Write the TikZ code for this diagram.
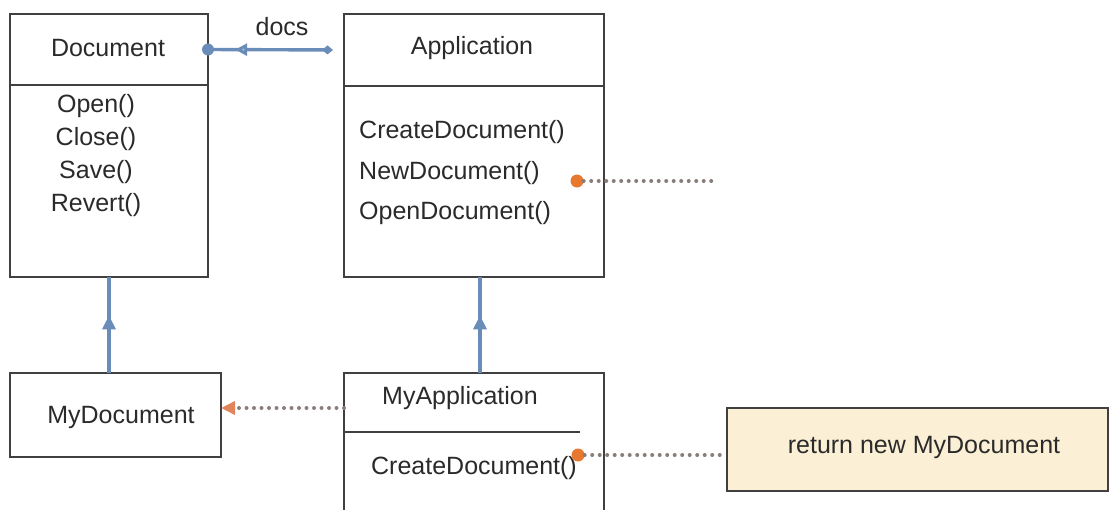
\documentclass[tikz,border=0pt]{standalone}
\usepackage{fontspec}
\setmainfont{Liberation Sans}
\usetikzlibrary{arrows.meta,decorations.markings}
\definecolor{boxline}{HTML}{404040}
\definecolor{conblue}{HTML}{6A8CB8}
\definecolor{dotorange}{HTML}{E8782F}
\definecolor{tiporange}{HTML}{E0845A}
\definecolor{dotgray}{HTML}{8A7E7A}
\definecolor{notefill}{HTML}{FBF0D5}
\definecolor{txt}{HTML}{2A2A2A}
\begin{document}
\begin{tikzpicture}[x=1pt,y=-1pt,
  box/.style={draw=boxline,line width=2pt,anchor=north west,inner sep=0pt,outer sep=0pt},
  lbl/.style={inner sep=0pt,text=txt,font=\fontsize{25}{29}\selectfont},
  conn/.style={draw=conblue,line width=3.4pt},
  dep/.style={draw=dotgray,line width=4pt,dash pattern=on 0pt off 7.5pt,line cap=round},
  odot/.style={circle,fill=dotorange,minimum size=13pt,inner sep=0pt},
  inh/.style={conn,postaction={decorate},decoration={markings,
     mark=at position 0.6 with {\arrow[conblue]{Triangle[length=14pt,width=13pt]}}}}
]
\useasboundingbox (0,0) rectangle (1110,509);
\clip (0,0) rectangle (1110,509);

% Document class
\node[box,minimum width=198pt,minimum height=71pt] (dochead) at (10,14) {};
\node[box,minimum width=198pt,minimum height=192pt] (docbody) at (10,85) {};
\node[lbl] (docname) at (108,48) {Document};
\node[lbl] (m1) at (96,106) {Open()};
\node[lbl] (m2) at (96,139) {Close()};
\node[lbl] (m3) at (96,172) {Save()};
\node[lbl] (m4) at (96,205) {Revert()};

% Application class
\node[box,minimum width=260pt,minimum height=72pt] (apphead) at (344,14) {};
\node[box,minimum width=260pt,minimum height=191pt] (appbody) at (344,86) {};
\node[lbl] (appname) at (472,48) {Application};
\node[lbl,anchor=west] (a1) at (359,132) {CreateDocument()};
\node[lbl,anchor=west] (a2) at (359,173) {NewDocument()};
\node[lbl,anchor=west] (a3) at (359,213) {OpenDocument()};

% MyDocument
\node[box,minimum width=211pt,minimum height=84pt] (mydoc) at (10,373) {};
\node[lbl] (mydocname) at (121,417) {MyDocument};

% MyApplication
\node[box,minimum width=260pt,minimum height=170pt] (myapp) at (344,373) {};
\draw[boxline,line width=2pt] (344,432) -- (580,432);
\node[lbl] (myappname) at (460,398) {MyApplication};
\node[lbl] (b1) at (474,468) {CreateDocument()};

% Note
\node[box,fill=notefill,minimum width=381pt,minimum height=83pt] (note) at (727,408) {};
\node[lbl] (notetext) at (924,447) {return new MyDocument};

% docs association
\draw[conn,shorten >=11pt,-{Diamond[length=11pt,width=9pt]},
  postaction={decorate},decoration={markings,
    mark=at position 0.2 with {\arrowreversed[conblue]{Triangle[length=12pt,width=12pt,open,fill=conblue!45]}}}]
  (dochead.east) -- (apphead.west);
\fill[conblue] (dochead.east) circle (6pt);
\node[lbl] (docslbl) at (282,27) {docs};

% inheritance
\draw[inh] (docbody.south |- mydoc.north) -- (docbody.south);
\draw[inh] ([xshift=6pt]appbody.south |- myapp.north) -- ([xshift=6pt]appbody.south);

% dependency
\draw[dep,-{Triangle[length=14pt,width=13pt,color=tiporange]}]
  ([yshift=7pt]myapp.west |- mydoc.east) -- ([yshift=7pt]mydoc.east);

% notes links
\node[odot] (nd) at (577,181) {};
\coordinate (ndend) at (718,181);
\draw[dep] (nd) -- (ndend);
\node[odot] (cd) at (578,455) {};
\draw[dep] (cd) -- (cd -| note.west);
\end{tikzpicture}
\end{document}
